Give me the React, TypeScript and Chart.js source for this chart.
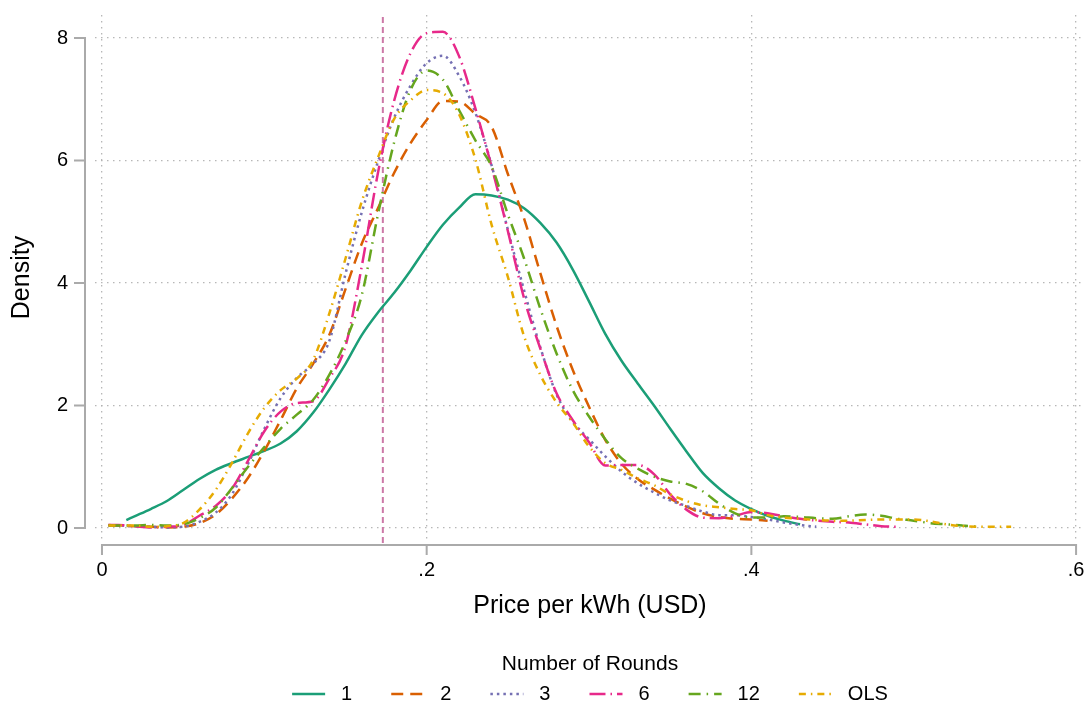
import React, { useEffect, useRef } from "react";
import { Chart, registerables } from "chart.js";

Chart.register(...registerables);

// ---------- data ----------
const priceGrid = [
  0.004, 0.01, 0.015, 0.02,
  0.03, 0.04, 0.05, 0.06, 0.07, 0.08, 0.09,
  0.1, 0.11, 0.12, 0.13, 0.14, 0.15, 0.16, 0.17, 0.18, 0.19,
  0.2, 0.21, 0.22, 0.23, 0.24, 0.25, 0.26, 0.27, 0.28, 0.29,
  0.3, 0.31, 0.32, 0.33, 0.34, 0.35, 0.36, 0.37, 0.38, 0.39,
  0.4, 0.41, 0.42, 0.43, 0.44, 0.45, 0.46, 0.47, 0.48, 0.49,
  0.5, 0.51, 0.52, 0.53, 0.54, 0.55, 0.56,
];

const round1 = [
  null, null, 0.13, 0.19,
  0.31, 0.44, 0.62, 0.8, 0.95, 1.06, 1.16,
  1.26, 1.38, 1.58, 1.88, 2.26, 2.68, 3.15, 3.52, 3.84, 4.2,
  4.59, 4.95, 5.23, 5.45, 5.43, 5.36, 5.22, 4.98, 4.66, 4.22,
  3.7, 3.17, 2.73, 2.36, 2.0, 1.62, 1.25, 0.9, 0.65, 0.45,
  0.31, 0.2, 0.12, 0.06,
];

const round2 = [
  0.05, 0.04, 0.035, 0.03,
  0.02, 0.01, 0.02, 0.08, 0.22, 0.48, 0.82,
  1.26, 1.76, 2.28, 2.68, 3.15, 3.9, 4.64, 5.22, 5.8, 6.28,
  6.66, 6.97, 6.96, 6.76, 6.55, 5.78, 5.05, 4.16, 3.3, 2.58,
  1.98, 1.44, 1.05, 0.8, 0.63, 0.48, 0.35, 0.24, 0.18, 0.15,
  0.14, 0.12,
];

const round3 = [
  0.04, 0.04, 0.035, 0.03,
  0.02, 0.01, 0.02, 0.1, 0.25, 0.55, 1.05,
  1.62, 2.12, 2.45, 2.68, 3.05, 4.15, 5.15, 5.98, 6.7, 7.22,
  7.59, 7.71, 7.38, 6.78, 5.92, 4.87, 3.88, 2.95, 2.18, 1.73,
  1.45, 1.17, 0.92, 0.73, 0.58, 0.45, 0.36, 0.27, 0.21, 0.21,
  0.18, 0.14, 0.09, 0.05, 0.02,
];

const round6 = [
  0.05, 0.05, 0.04, 0.03,
  0.01, 0.02, 0.05, 0.2, 0.36, 0.64, 1.1,
  1.58, 1.9, 2.04, 2.07, 2.44, 2.97, 4.27, 5.8, 6.98, 7.75,
  8.08, 8.1, 7.7, 6.85, 5.9, 4.85, 3.75, 2.93, 2.2, 1.76,
  1.4, 1.02, 1.03, 1.03, 0.88, 0.55, 0.3, 0.17, 0.16, 0.2,
  0.26, 0.24, 0.19, 0.15, 0.12, 0.1, 0.09, 0.06, 0.03, 0.02,
];

const round12 = [
  0.04, 0.04, 0.04, 0.04,
  0.05, 0.04, 0.06, 0.16, 0.33, 0.65, 1.0,
  1.32, 1.62, 1.85, 2.09, 2.5, 3.05, 3.8, 5.12, 6.3, 7.15,
  7.47, 7.32, 6.82, 6.33, 5.9, 5.12, 4.4, 3.58, 2.85, 2.25,
  1.82, 1.45, 1.14, 0.97, 0.84, 0.76, 0.72, 0.6, 0.4, 0.24,
  0.17, 0.17, 0.19, 0.18, 0.16, 0.15, 0.19, 0.22, 0.2, 0.15,
  0.12, 0.08, 0.06, 0.04, 0.02,
];

const ols = [
  0.04, 0.04, 0.04, 0.04,
  0.02, 0.03, 0.08, 0.3, 0.62, 1.06, 1.55,
  1.96, 2.25, 2.44, 2.74, 3.5, 4.4, 5.33, 6.05, 6.68, 6.98,
  7.15, 7.1, 6.75, 6.02, 4.95, 4.1, 3.13, 2.5, 2.05, 1.72,
  1.33, 1.06, 0.95, 0.81, 0.7, 0.55, 0.44, 0.37, 0.34, 0.31,
  0.29, 0.21, 0.17, 0.15, 0.13, 0.12, 0.12, 0.13, 0.14, 0.14,
  0.14, 0.11, 0.06, 0.03, 0.02, 0.02, 0.02,
];

const seriesNames = ["1", "2", "3", "6", "12", "OLS"];
const seriesValues = [round1, round2, round3, round6, round12, ols];

const xTickValues = [0, 0.2, 0.4, 0.6];
const xTickLabels = ["0", ".2", ".4", ".6"];
const yTickValues = [0, 2, 4, 6, 8];
const yTickLabels = ["0", "2", "4", "6", "8"];

const refPrice = 0.173;

const xTitle = "Price per kWh (USD)";
const yTitle = "Density";
const legendTitle = "Number of Rounds";

// ---------- styles ----------
const FONT = "'Liberation Sans', Arial, sans-serif";
const seriesColors = ["#1b9e77", "#d95f02", "#7570b3", "#e7298a", "#66a61e", "#e6ab02"];
const seriesDashes = [[], [12, 7], [2.5, 4], [16, 5, 1.5, 5], [12, 6, 1.5, 6], [7, 5, 1.5, 5]];
const AXIS_COLOR = "#aaaaaa";
const GRID_COLOR = "rgba(175,175,175,0.9)";
const REF_COLOR = "rgb(204,121,167)";

const decorPlugin = {
  id: "stataDecor",
  beforeDatasetsDraw(chart: any) {
    const { ctx, chartArea, scales } = chart;
    const x = scales.x.getPixelForValue(refPrice);
    ctx.save();
    ctx.strokeStyle = REF_COLOR;
    ctx.lineWidth = 2;
    ctx.setLineDash([6, 4]);
    ctx.beginPath();
    ctx.moveTo(x, chartArea.top + 2);
    ctx.lineTo(x, chartArea.bottom + 5);
    ctx.stroke();
    ctx.restore();
  },
  afterDraw(chart: any) {
    const { ctx, chartArea, scales } = chart;
    const xs = scales.x;
    const ys = scales.y;
    ctx.save();
    ctx.strokeStyle = AXIS_COLOR;
    ctx.lineWidth = 2;
    ctx.setLineDash([]);
    // y axis
    const ax = chartArea.left - 10;
    const y0 = ys.getPixelForValue(yTickValues[0]);
    const y1 = ys.getPixelForValue(yTickValues[yTickValues.length - 1]);
    ctx.beginPath();
    ctx.moveTo(ax, y0 + 1);
    ctx.lineTo(ax, y1 - 1);
    for (const v of yTickValues) {
      const p = ys.getPixelForValue(v);
      ctx.moveTo(ax, p);
      ctx.lineTo(ax - 11, p);
    }
    ctx.stroke();
    // x axis
    const ay = chartArea.bottom + 5;
    const x0 = xs.getPixelForValue(xTickValues[0]);
    const x1 = xs.getPixelForValue(xTickValues[xTickValues.length - 1]);
    ctx.beginPath();
    ctx.moveTo(x0 - 1, ay);
    ctx.lineTo(x1 + 1, ay);
    for (const v of xTickValues) {
      const p = xs.getPixelForValue(v);
      ctx.moveTo(p, ay);
      ctx.lineTo(p, ay + 10);
    }
    ctx.stroke();

    // legend
    const cx = (chartArea.left + chartArea.right) / 2;
    ctx.fillStyle = "#000";
    ctx.textBaseline = "middle";
    ctx.textAlign = "center";
    ctx.font = `21px ${FONT}`;
    ctx.fillText(legendTitle, cx, chart.height - 43);

    ctx.font = `20px ${FONT}`;
    const lineLen = 33;
    const textGap = 16;
    const itemGap = 39;
    const widths = seriesNames.map((n) => lineLen + textGap + ctx.measureText(n).width);
    const total = widths.reduce((a, b) => a + b, 0) + itemGap * (widths.length - 1);
    let sx = cx - total / 2;
    const iy = chart.height - 13;
    ctx.textAlign = "left";
    seriesNames.forEach((n, i) => {
      ctx.strokeStyle = seriesColors[i];
      ctx.lineWidth = 2.5;
      ctx.setLineDash(seriesDashes[i]);
      ctx.beginPath();
      ctx.moveTo(sx, iy);
      ctx.lineTo(sx + lineLen, iy);
      ctx.stroke();
      ctx.setLineDash([]);
      ctx.fillText(n, sx + lineLen + textGap, iy);
      sx += widths[i] + itemGap;
    });
    ctx.restore();
  },
};

export default function App() {
  const ref = useRef<HTMLCanvasElement>(null);

  useEffect(() => {
    const canvas = ref.current;
    if (!canvas) return;
    Chart.defaults.font.family = FONT;
    Chart.defaults.color = "#000";

    const datasets = seriesNames.map((name, i) => ({
      label: name,
      data: priceGrid
        .map((x, j) => ({ x, y: seriesValues[i][j] }))
        .filter((p) => p.y !== null && p.y !== undefined),
      borderColor: seriesColors[i],
      backgroundColor: seriesColors[i],
      borderDash: seriesDashes[i],
      borderWidth: 2.5,
      borderCapStyle: "butt" as const,
      pointRadius: 0,
      fill: false,
      cubicInterpolationMode: "monotone" as const,
      order: seriesNames.length - 1 - i,
    }));

    const chart = new Chart(canvas, {
      type: "line",
      data: { datasets },
      plugins: [decorPlugin],
      options: {
        animation: false,
        responsive: false,
        devicePixelRatio: 1,
        layout: { padding: { left: 0, right: 3, top: 15, bottom: 82 } },
        plugins: {
          legend: { display: false },
          tooltip: { enabled: false },
        },
        scales: {
          x: {
            type: "linear",
            min: -0.0043,
            max: 0.6055,
            afterBuildTicks: (s: any) => {
              s.ticks = xTickValues.map((v) => ({ value: v }));
            },
            afterFit: (s: any) => {
              s.height = 85;
              s.paddingLeft = 0;
              s.paddingRight = 0;
            },
            ticks: {
              autoSkip: false,
              maxRotation: 0,
              padding: 18,
              font: { size: 20 },
              color: "#000",
              callback: (_v: any, i: number) => xTickLabels[i],
            },
            grid: {
              color: GRID_COLOR,
              lineWidth: 1.3,
              drawTicks: false,
            },
            border: { display: false, dash: [1.5, 4.5] },
            title: {
              display: true,
              text: xTitle,
              font: { size: 25 },
              color: "#000",
              padding: { top: 4, bottom: 4 },
            },
          },
          y: {
            type: "linear",
            min: -0.196,
            max: 8.3755,
            afterBuildTicks: (s: any) => {
              s.ticks = yTickValues.map((v) => ({ value: v }));
            },
            afterFit: (s: any) => {
              s.width = 95;
              s.paddingTop = 0;
              s.paddingBottom = 0;
            },
            ticks: {
              autoSkip: false,
              padding: 27,
              font: { size: 20 },
              color: "#000",
              callback: (_v: any, i: number) => yTickLabels[i],
            },
            grid: {
              color: GRID_COLOR,
              lineWidth: 1.3,
              drawTicks: false,
            },
            border: { display: false, dash: [1.5, 4.5] },
            title: {
              display: true,
              text: yTitle,
              font: { size: 25 },
              color: "#000",
              padding: { top: 7, bottom: 0 },
            },
          },
        },
      },
    } as any);

    return () => chart.destroy();
  }, []);

  return (
    <div style={{ position: "fixed", left: 0, top: 0, width: 1088, height: 707, background: "#fff" }}>
      <canvas ref={ref} width={1088} height={707} style={{ display: "block", width: 1088, height: 707 }} />
    </div>
  );
}
